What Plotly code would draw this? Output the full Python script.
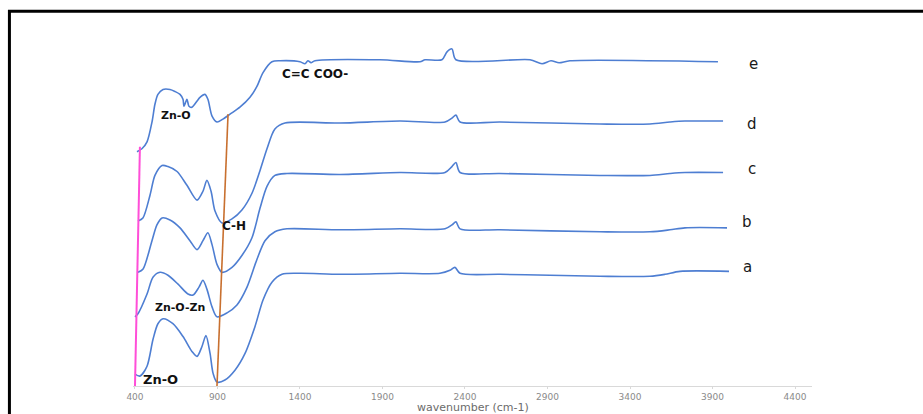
import plotly.graph_objects as go

# FTIR spectra of the five samples (wavenumber in cm-1, stacked transmittance in a.u.)
wn_a = [400, 430, 473, 509, 539, 570, 630, 691, 745, 776, 806, 830, 855, 873, 897, 945, 1006, 1067, 1127, 1176, 1230, 1291, 1400, 1642, 2006, 2248, 2309, 2339, 2370, 2612, 2915, 3218, 3521, 3612, 3703, 4000]
t_a = [12, 10, 20, 47, 63, 68, 63, 50, 35, 30, 40, 51, 33, 13, 4, 6, 16, 33, 60, 87, 105, 113, 114, 113, 114, 114, 117, 120, 114, 113, 112, 111, 111, 113, 116, 116]

wn_b = [400, 418, 473, 509, 552, 600, 661, 721, 752, 788, 812, 836, 867, 897, 958, 1018, 1079, 1139, 1188, 1248, 1321, 1642, 2006, 2279, 2321, 2345, 2370, 2612, 3218, 3521, 3642, 3733, 3988]
t_b = [70, 73, 93, 110, 115, 112, 103, 93, 92, 100, 107, 98, 80, 70, 74, 82, 100, 128, 147, 156, 159, 158, 159, 159, 163, 166, 159, 158, 156, 156, 158, 160, 160]

wn_c = [418, 448, 503, 533, 564, 612, 673, 733, 776, 812, 842, 867, 897, 927, 988, 1048, 1109, 1158, 1200, 1248, 1321, 1642, 2006, 2279, 2321, 2345, 2370, 2612, 3218, 3521, 3642, 3733, 3964]
t_c = [115, 118, 147, 163, 170, 168, 160, 147, 138, 147, 155, 143, 123, 115, 120, 132, 150, 180, 202, 213, 215, 214, 216, 216, 222, 226, 216, 215, 213, 213, 215, 216, 216]

wn_d = [418, 448, 491, 521, 564, 600, 655, 715, 776, 812, 836, 861, 885, 927, 988, 1048, 1109, 1158, 1200, 1248, 1309, 1642, 2006, 2279, 2321, 2345, 2370, 2612, 3218, 3521, 3642, 3733, 3964]
t_d = [167, 170, 193, 213, 223, 222, 217, 203, 188, 197, 208, 197, 177, 165, 169, 178, 195, 218, 240, 260, 266, 266, 268, 267, 271, 274, 267, 267, 265, 265, 267, 268, 268]

wn_e = [412, 442, 473, 503, 521, 539, 570, 612, 642, 673, 691, 697, 715, 727, 745, 794, 824, 842, 867, 897, 933, 976, 1036, 1097, 1139, 1176, 1230, 1279, 1400, 1430, 1448, 1467, 1491, 1885, 2127, 2158, 2260, 2291, 2321, 2345, 2794, 2867, 2921, 2970, 3036, 3933]
t_e = [237, 240, 247, 267, 285, 295, 300, 300, 298, 295, 290, 283, 290, 283, 282, 292, 295, 290, 273, 267, 270, 275, 282, 292, 303, 317, 328, 329, 328, 326, 329, 327, 329, 330, 328, 330, 330, 338, 341, 330, 330, 326, 329, 327, 329, 328]

# Sample labels placed at the right end of each spectrum
sample_names = ["a", "b", "c", "d", "e"]
sample_label_wn = [4115, 4109, 4139, 4139, 4151]
sample_label_t = [120, 166, 220, 265, 326]

# Band assignments written beside the spectra
band_text = ["C=C COO-", "Zn-O", "C-H", "Zn-O-Zn", "Zn-O"]
band_wn = [1491, 648, 1000, 673, 552]
band_t = [316, 274, 162, 79, 7]
band_size = [12, 11, 12, 11, 13]

# Guide lines through the Zn-O and C-H bands
zno_line_wn = [400, 430]
zno_line_t = [0, 242]
ch_line_wn = [897, 964]
ch_line_t = [0, 275]

x_ticks = [400, 900, 1400, 1900, 2400, 2900, 3400, 3900, 4400]

blue = "#4E7ED2"
fig = go.Figure()
for wn, t in [(wn_a, t_a), (wn_b, t_b), (wn_c, t_c), (wn_d, t_d), (wn_e, t_e)]:
    fig.add_trace(go.Scatter(x=wn, y=t, mode="lines",
                             line=dict(color=blue, width=1.6, shape="spline", smoothing=0.8),
                             hoverinfo="skip", showlegend=False))

fig.add_trace(go.Scatter(x=zno_line_wn, y=zno_line_t, mode="lines",
                         line=dict(color="#FF4FD8", width=2), hoverinfo="skip", showlegend=False))
fig.add_trace(go.Scatter(x=ch_line_wn, y=ch_line_t, mode="lines",
                         line=dict(color="#C8702F", width=1.6), hoverinfo="skip", showlegend=False))

for name, xv, yv in zip(sample_names, sample_label_wn, sample_label_t):
    fig.add_annotation(x=xv, y=yv, text=name, showarrow=False, xref="x", yref="y",
                       font=dict(family="DejaVu Sans", size=15, color="#1a1a1a"))

for txt, xv, yv, sz in zip(band_text, band_wn, band_t, band_size):
    fig.add_annotation(x=xv, y=yv, text="<b>%s</b>" % txt, showarrow=False, xref="x", yref="y",
                       font=dict(family="DejaVu Sans", size=sz, color="#111111"))

fig.add_annotation(x=0.5, y=-0.061, xref="paper", yref="paper", text="wavenumber (cm-1)",
                   showarrow=False, yanchor="middle",
                   font=dict(family="DejaVu Sans", size=11, color="#6b6b6b"))

# Outer frame
fig.add_shape(type="rect", xref="paper", yref="paper", x0=-0.182, x1=1.17, y0=-0.09, y1=1.083,
              line=dict(color="black", width=3))

fig.update_layout(
    width=923, height=414,
    margin=dict(l=133, r=111, t=40, b=24),
    paper_bgcolor="white", plot_bgcolor="white",
    xaxis=dict(range=[388, 4503], tickvals=x_ticks, ticks="outside", ticklen=2,
               tickcolor="#d9d9d9", showline=True, linecolor="#d9d9d9", linewidth=1,
               showgrid=False, zeroline=False,
               tickfont=dict(family="DejaVu Sans", size=9, color="#8a8a8a")),
    yaxis=dict(range=[0, 350], visible=False),
)

fig.write_html("out.html")
